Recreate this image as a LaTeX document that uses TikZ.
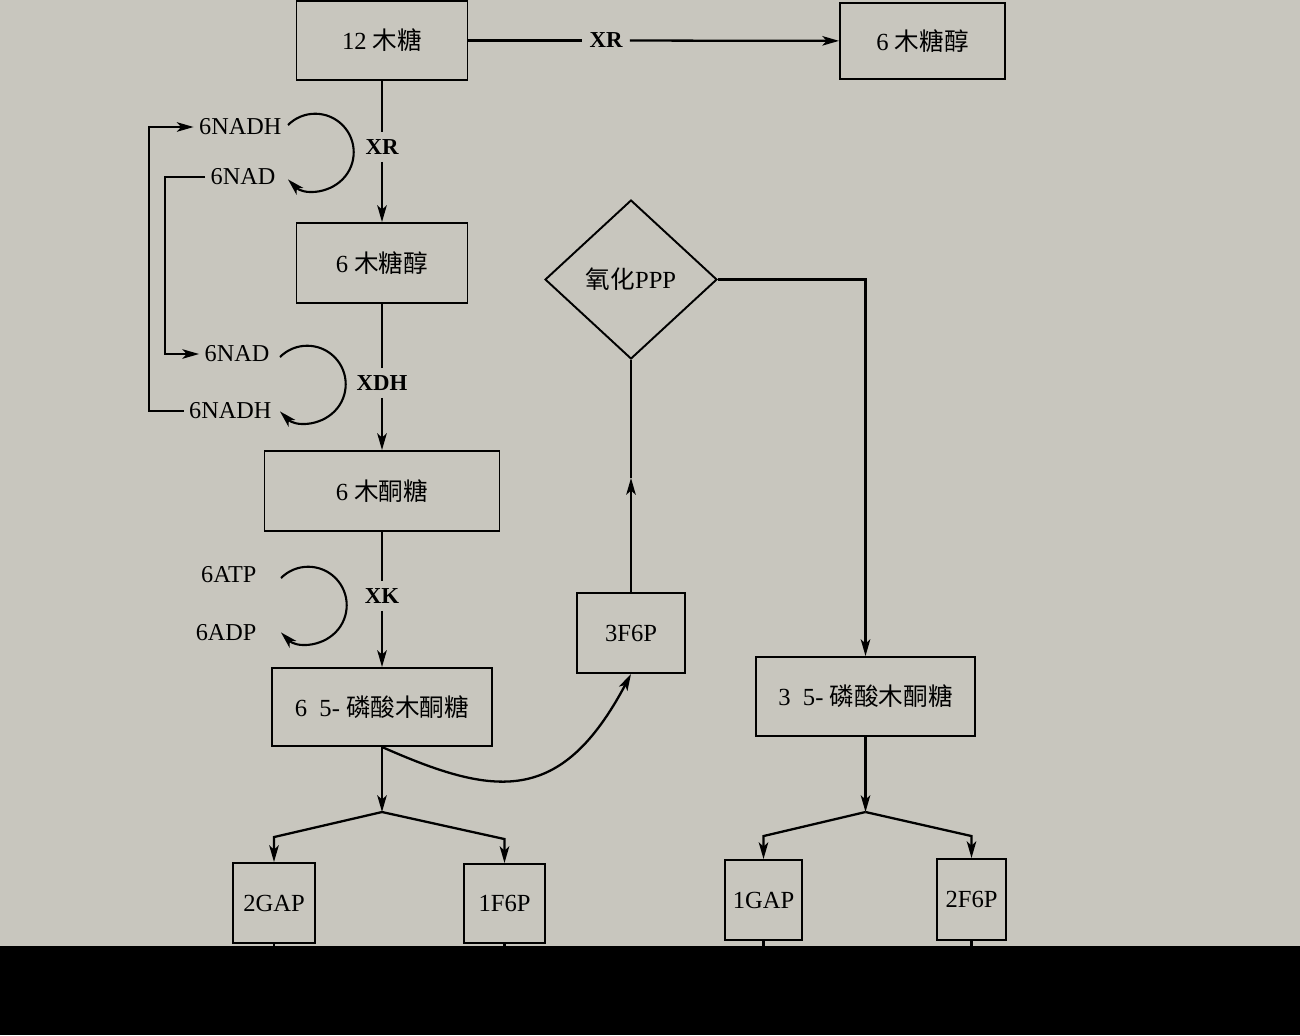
\documentclass[tikz,border=0pt]{standalone}
\usepackage{fontspec}
\setmainfont{Liberation Serif}
\newfontfamily\cjk{Noto Sans CJK SC}
\newcommand{\zh}[1]{{\cjk #1}}
\usepackage{tikz}
\usetikzlibrary{arrows.meta,calc,shapes.geometric}
\definecolor{paper}{RGB}{200,198,190}

\begin{document}
\begin{tikzpicture}
[x=0.02cm,y=-0.02cm,
sugarBox/.style={draw,line width=1.1pt,inner sep=2pt,font=\fontsize{14}{16}\selectfont},
decision/.style={diamond,draw,line width=1.1pt,inner sep=0pt,font=\fontsize{14}{16}\selectfont},
enzymeLabel/.style={inner sep=4pt,font=\fontsize{13}{15}\selectfont\bfseries},
cofactorLabel/.style={inner sep=3pt,anchor=east,font=\fontsize{13.8}{15}\selectfont},
flowEdge/.style={line width=1.3pt},
arrowEnd/.style={-{Stealth[length=9.5pt,width=5.4pt,inset=2.4pt]}},
cycleEdge/.style={line width=1.2pt,arrowEnd}]
\useasboundingbox (0,0) rectangle (1300,1035);
\fill[paper] (0,0) rectangle (1300,946);

\node[sugarBox,minimum width=3.42cm,minimum height=1.58cm] (xyl12) at (382,40.5) {12 \zh{木糖}};
\node[sugarBox,minimum width=3.30cm,minimum height=1.52cm] (xol6top) at (922.5,41) {6 \zh{木糖醇}};
\node[sugarBox,minimum width=3.42cm,minimum height=1.60cm] (xol6) at (382,263) {6 \zh{木糖醇}};
\node[sugarBox,minimum width=4.70cm,minimum height=1.60cm] (xul6) at (382,491) {6 \zh{木酮糖}};
\node[sugarBox,minimum width=4.40cm,minimum height=1.56cm] (x5p6) at (382,707) {6\hspace{0.5em}5- \zh{磷酸木酮糖}};
\node[sugarBox,minimum width=1.64cm,minimum height=1.60cm] (gap2) at (274,903) {2GAP};
\node[sugarBox,minimum width=1.62cm,minimum height=1.58cm] (f6p1) at (504.5,903.5) {1F6P};
\node[sugarBox,minimum width=2.16cm,minimum height=1.60cm] (f6p3) at (631,633) {3F6P};
\node[decision,minimum width=3.44cm,minimum height=3.18cm] (oxppp) at (631,279.5) {\zh{氧化}PPP};
\node[sugarBox,minimum width=4.38cm,minimum height=1.58cm] (x5p3) at (865.5,696.5) {3\hspace{0.5em}5- \zh{磷酸木酮糖}};
\node[sugarBox,minimum width=1.54cm,minimum height=1.60cm] (gap1) at (763.5,900) {1GAP};
\node[sugarBox,minimum width=1.38cm,minimum height=1.62cm] (f6p2) at (971.5,899.5) {2F6P};

\node[enzymeLabel] (xrH) at (606,40.5) {XR};
\node[enzymeLabel] (xrV) at (382,147) {XR};
\node[enzymeLabel] (xdh) at (382,383) {XDH};
\node[enzymeLabel] (xk) at (382,596) {XK};

\node[cofactorLabel] (nadh1) at (287,127) {6NADH};
\node[cofactorLabel] (nad1) at (281,177) {6NAD};
\node[cofactorLabel] (nad2) at (275,354) {6NAD};
\node[cofactorLabel] (nadh2) at (277,411) {6NADH};
\node[cofactorLabel] (atp) at (262,575) {6ATP};
\node[cofactorLabel] (adp) at (262,633) {6ADP};

\coordinate (outerX) at (149,0);
\coordinate (innerX) at (165,0);
\coordinate (split1) at (382,812);
\coordinate (split2) at (865.5,812);
\coordinate (ppMid) at (631,478);

\draw[flowEdge] (xyl12) -- (xrH);
\draw[flowEdge,arrowEnd] (xrH) -- (xol6top);
\draw[flowEdge] (xyl12) -- (xrV);
\draw[flowEdge,arrowEnd] (xrV) -- (xol6);
\draw[flowEdge] (xol6) -- (xdh);
\draw[flowEdge,arrowEnd] (xdh) -- (xul6);
\draw[flowEdge] (xul6) -- (xk);
\draw[flowEdge,arrowEnd] (xk) -- (x5p6);

\draw[cycleEdge] ([shift={(1,-2)}]nadh1.east) arc[start angle=135,end angle=-135,radius=0.77cm];
\draw[cycleEdge] ([shift={(5,3)}]nad2.east) arc[start angle=135,end angle=-135,radius=0.77cm];
\draw[cycleEdge] ([shift={(19,3)}]atp.east) arc[start angle=135,end angle=-135,radius=0.77cm];

\draw[flowEdge,arrowEnd] (nadh2.west) -- (nadh2.west -| outerX) |- (nadh1.west);
\draw[flowEdge,arrowEnd] (nad1.west) -- (nad1.west -| innerX) |- (nad2.west);

\draw[flowEdge,arrowEnd] (f6p3) -- (ppMid);
\draw[flowEdge] (ppMid) -- (oxppp);
\draw[flowEdge,arrowEnd] (oxppp.east) -| (x5p3.north);
\draw[flowEdge,arrowEnd] (x5p6.south) .. controls (495,797) and (561,806) .. (f6p3.south);

\draw[flowEdge,arrowEnd] (x5p6) -- (split1);
\draw[flowEdge,arrowEnd] (split1) -- ($(gap2.north)+(0,-25)$) -- (gap2);
\draw[flowEdge,arrowEnd] (split1) -- ($(f6p1.north)+(0,-24)$) -- (f6p1);
\draw[flowEdge,arrowEnd] (x5p3) -- (split2);
\draw[flowEdge,arrowEnd] (split2) -- ($(gap1.north)+(0,-23)$) -- (gap1);
\draw[flowEdge,arrowEnd] (split2) -- ($(f6p2.north)+(0,-22)$) -- (f6p2);

\foreach \b in {gap2,f6p1,gap1,f6p2}
  \draw[flowEdge] (\b.south) -- ++(0,12);
\fill[black] (0,946) rectangle (1300,1035);
\end{tikzpicture}
\end{document}
